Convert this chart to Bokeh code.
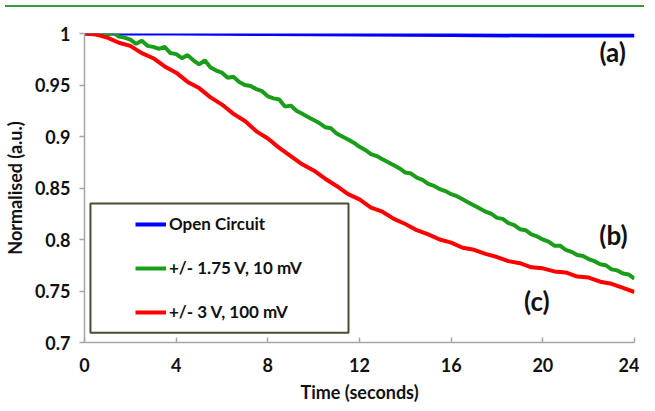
from bokeh.plotting import figure
from bokeh.layouts import column
from bokeh.models import (Div, Legend, LegendItem, BoxAnnotation, Label, Range1d,
                          FixedTicker, CustomJSTickFormatter)
from bokeh.embed import file_html
from bokeh.resources import INLINE

# ---------------- data ----------------
x_ticks = [0, 4, 8, 12, 16, 20, 24]
y_ticks = [0.7, 0.75, 0.8, 0.85, 0.9, 0.95, 1.0]

t_open = [0, 4, 8, 12, 16, 20, 24]
open_circuit = [1.000, 1.000, 0.9995, 0.999, 0.9985, 0.998, 0.998]

t_green = [i * 0.25 for i in range(97)]
green_175V = [
    1.000, 1.000, 1.001, 1.000, 0.999, 1.001, 0.997, 0.996, 0.994, 0.990,
    0.993, 0.988, 0.987, 0.985, 0.987, 0.981, 0.980, 0.976, 0.979, 0.974,
    0.970, 0.974, 0.967, 0.964, 0.962, 0.957, 0.958, 0.953, 0.950, 0.949,
    0.946, 0.944, 0.939, 0.937, 0.936, 0.929, 0.930, 0.925, 0.922, 0.919,
    0.916, 0.913, 0.909, 0.908, 0.903, 0.900, 0.897, 0.894, 0.890, 0.887,
    0.883, 0.881, 0.878, 0.875, 0.872, 0.869, 0.865, 0.864, 0.860, 0.858,
    0.854, 0.852, 0.849, 0.847, 0.844, 0.842, 0.839, 0.836, 0.833, 0.830,
    0.827, 0.825, 0.821, 0.820, 0.816, 0.814, 0.810, 0.809, 0.805, 0.803,
    0.800, 0.798, 0.794, 0.794, 0.790, 0.788, 0.785, 0.784, 0.781, 0.779,
    0.776, 0.775, 0.771, 0.770, 0.767, 0.766, 0.762,
]

t_red = [i * 0.5 for i in range(49)]
red_3V = [
    1.000, 0.999, 0.996, 0.991, 0.988, 0.981, 0.976, 0.968, 0.962, 0.953,
    0.947, 0.938, 0.931, 0.922, 0.915, 0.905, 0.898, 0.889, 0.881, 0.873,
    0.867, 0.859, 0.852, 0.844, 0.839, 0.831, 0.827, 0.820, 0.815, 0.809,
    0.805, 0.800, 0.797, 0.792, 0.790, 0.786, 0.783, 0.779, 0.777, 0.773,
    0.772, 0.769, 0.768, 0.764, 0.763, 0.759, 0.757, 0.753, 0.749,
]

series_names = ["Open Circuit", "+/- 1.75 V, 10 mV", "+/- 3 V, 100 mV"]
series_colors = ["#0000ff", "#1a9e1a", "#ff0000"]
curve_labels = ["(a)", "(b)", "(c)"]
curve_label_x = [23.05, 23.08, 19.74]
curve_label_y = [0.982, 0.804, 0.740]

FONT = "Lato"

# ---------------- figure ----------------
top_line = Div(text="", width=639, height=2,
               styles={"background-color": "#3b9b3b"})

p = figure(width=639, height=393, output_backend="svg", toolbar_location=None,
           x_range=Range1d(0, 24), y_range=Range1d(0.7, 1.0),
           min_border_left=78, min_border_right=5, min_border_top=21,
           min_border_bottom=58)
p.outline_line_color = None
p.xgrid.visible = False
p.ygrid.visible = False
p.background_fill_color = "white"
p.border_fill_color = "white"

r_open = p.line(t_open, open_circuit, line_color=series_colors[0], line_width=4)
r_green = p.line(t_green, green_175V, line_color=series_colors[1], line_width=4)
r_red = p.line(t_red, red_3V, line_color=series_colors[2], line_width=4)

for ax in (p.xaxis[0], p.yaxis[0]):
    ax.axis_line_color = "#a6a6a6"
    ax.axis_line_width = 1.5
    ax.major_tick_line_color = "#a6a6a6"
    ax.major_tick_line_width = 1.5
    ax.minor_tick_line_color = None
    ax.major_label_text_font = FONT
    ax.major_label_text_font_style = "bold"
    ax.major_label_text_font_size = "18px"
    ax.major_label_text_color = "#111111"
    ax.axis_label_text_font = FONT
    ax.axis_label_text_font_style = "bold"
    ax.axis_label_text_font_size = "18px"
    ax.axis_label_text_color = "#111111"

p.xaxis[0].ticker = FixedTicker(ticks=x_ticks)
p.xaxis[0].major_tick_in = 5
p.xaxis[0].major_tick_out = 0
p.xaxis[0].major_label_standoff = 15
p.xaxis[0].axis_label = "Time (seconds)"
p.xaxis[0].axis_label_standoff = 6

p.yaxis[0].ticker = FixedTicker(ticks=y_ticks)
p.yaxis[0].major_tick_in = 0
p.yaxis[0].major_tick_out = 5
p.yaxis[0].major_label_standoff = 9
p.yaxis[0].formatter = CustomJSTickFormatter(
    code="return tick.toFixed(2).replace(/0+$/, '').replace(/\\.$/, '');")
p.yaxis[0].axis_label = "Normalised (a.u.)"
p.yaxis[0].axis_label_standoff = 6

# legend frame
box = BoxAnnotation(left=0.26, right=11.52, top=0.835, bottom=0.7095,
                    fill_alpha=0, line_color="#4f4a33", line_alpha=1.0, line_width=2)
p.add_layout(box)

legend = Legend(items=[LegendItem(label=series_names[0], renderers=[r_open]),
                       LegendItem(label=series_names[1], renderers=[r_green]),
                       LegendItem(label=series_names[2], renderers=[r_red])],
                location=(41, 10), padding=10, margin=0, spacing=23,
                glyph_width=31, glyph_height=20, label_height=20,
                label_standoff=3,
                label_text_font=FONT, label_text_font_style="bold",
                label_text_font_size="17px", label_text_color="#111111",
                border_line_alpha=0, background_fill_alpha=0)
p.add_layout(legend)

for txt, lx, ly in zip(curve_labels, curve_label_x, curve_label_y):
    p.add_layout(Label(x=lx, y=ly, text=txt, text_font=FONT, text_font_style="bold",
                       text_font_size="26px", text_align="center",
                       text_baseline="middle", text_color="#111111"))

layout = column(top_line, p)
open("out.html", "w").write(file_html(layout, INLINE))
